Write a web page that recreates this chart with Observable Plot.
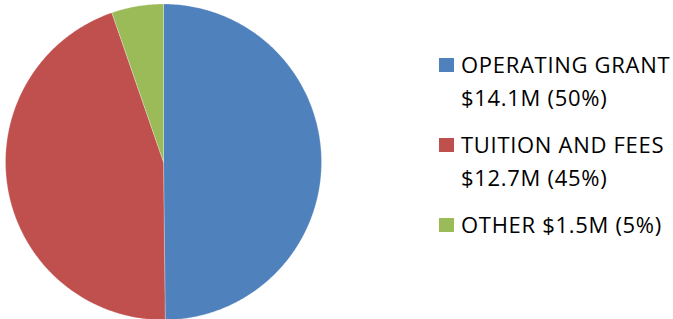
<!DOCTYPE html>
<html><head><meta charset="utf-8">
<script src="https://cdn.jsdelivr.net/npm/d3@7"></script>
<script src="https://cdn.jsdelivr.net/npm/@observablehq/plot@0.6"></script>
<style>
body{margin:0;background:#fff;}
#wrap{position:relative;width:673px;height:319px;overflow:hidden;}
#wrap svg{position:absolute;left:0;top:0;}
#legend{position:absolute;left:439px;top:48px;font-family:"Open Sans",sans-serif;font-size:22px;letter-spacing:0.7px;line-height:32.5px;color:#000;white-space:nowrap;}
.item{position:relative;padding-left:22px;margin-bottom:15px;}
.sw{position:absolute;left:0;top:9.5px;width:14.5px;height:14.5px;}
</style></head><body><div id="wrap"><div id="legend"></div></div>
<script>
const categories = ["OPERATING GRANT", "TUITION AND FEES", "OTHER"];
const values = [14.1, 12.7, 1.5];
const percents = [50, 45, 5];
const colors = ["#4F81BD", "#C0504D", "#9BBB59"];
const legendLines = [["OPERATING GRANT", "$14.1M (50%)"], ["TUITION AND FEES", "$12.7M (45%)"], ["OTHER $1.5M (5%)"]];

const total = d3.sum(values);
const pts = [];
let acc = 0;
categories.forEach((c, i) => {
  const a0 = acc / total * 2 * Math.PI;
  acc += values[i];
  const a1 = acc / total * 2 * Math.PI;
  const n = Math.max(2, Math.ceil((a1 - a0) / (Math.PI / 360)));
  pts.push({cat: c, x: 0, y: 0});
  for (let k = 0; k <= n; k++) {
    const a = a0 + (a1 - a0) * k / n;
    pts.push({cat: c, x: Math.sin(a), y: Math.cos(a)});
  }
  pts.push({cat: c, x: 0, y: 0});
});

const chart = Plot.plot({
  width: 673, height: 319, margin: 0,
  x: {domain: [-1, 1], range: [5, 321], axis: null},
  y: {domain: [-1, 1], range: [319.5, 3.5], axis: null},
  color: {domain: categories, range: colors},
  marks: [
    Plot.line(pts, {x: "x", y: "y", z: "cat", fill: "cat", stroke: "white", strokeWidth: 0.5, strokeOpacity: 0.5, curve: "linear"})
  ]
});
document.getElementById("wrap").prepend(chart);

const leg = document.getElementById("legend");
legendLines.forEach((lines, i) => {
  const it = document.createElement("div");
  it.className = "item";
  const sw = document.createElement("div");
  sw.className = "sw";
  sw.style.background = colors[i];
  it.appendChild(sw);
  lines.forEach(t => { const d = document.createElement("div"); d.textContent = t; it.appendChild(d); });
  leg.appendChild(it);
});
</script></body></html>
